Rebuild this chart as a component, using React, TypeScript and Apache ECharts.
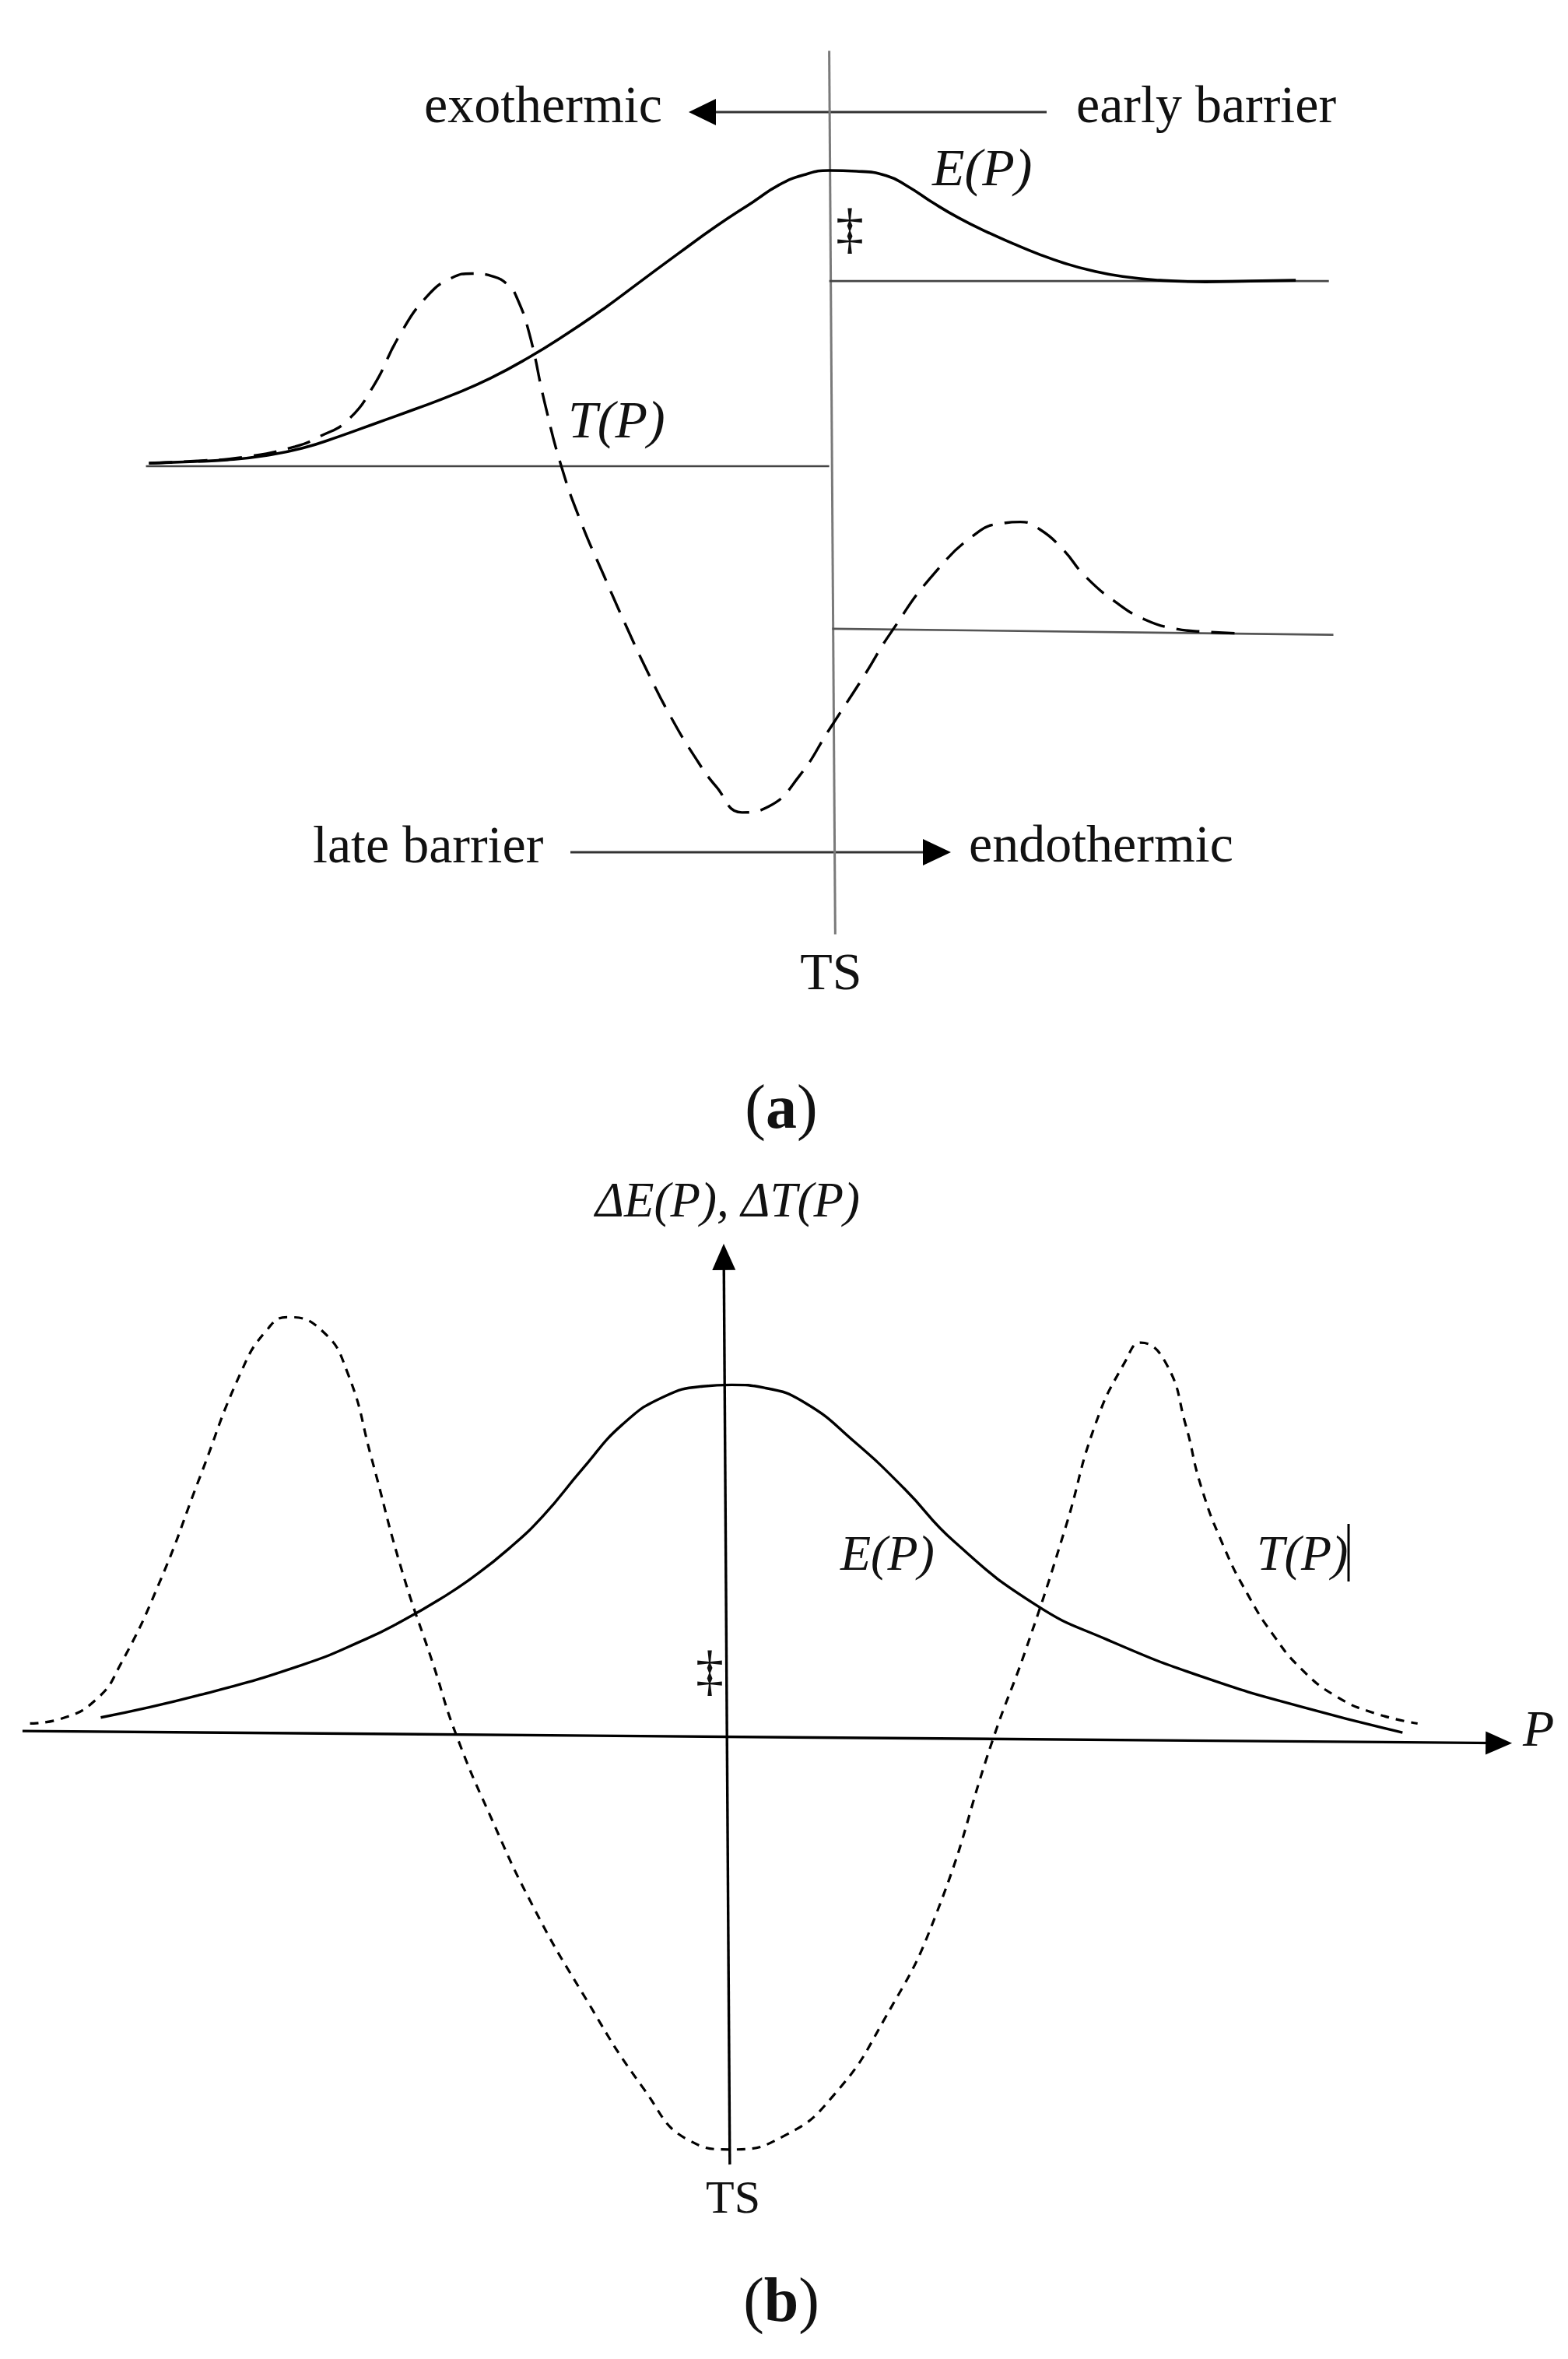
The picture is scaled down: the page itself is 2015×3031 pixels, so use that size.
import React, { useEffect, useRef } from "react";
import * as echarts from "echarts";

// ---------- Panel (a) data (P: reaction coordinate, TS at 0) ----------
const pA_E = [-45.2, -42.5, -40, -37.5, -35, -32.5, -30, -27.5, -25, -22.5, -20, -17.5, -15, -12.5, -10, -7.5, -5, -3.4, -1.7, 0, 1.8, 3.8, 5.2, 6.9, 8.6, 10.4, 12.2, 13.9, 15.6, 17.4, 19.5, 22, 25, 28, 31];
const eA = [0.2, 0.3, 0.42, 0.7, 1.2, 2.0, 2.9, 3.8, 4.75, 5.85, 7.2, 8.75, 10.45, 12.3, 14.15, 15.95, 17.6, 18.65, 19.35, 19.65, 19.6, 19.3, 18.6, 17.5, 16.5, 15.6, 14.8, 14.1, 13.5, 13.0, 12.6, 12.35, 12.25, 12.3, 12.35];

const pA_T = [-45.2, -42, -38.9, -35.5, -33.8, -32.0, -30.3, -28.6, -26.8, -25.1, -23.7, -22.3, -21.3, -20.8, -19.95, -18.9, -17.8, -16.5, -15, -13.5, -12, -10.5, -9, -7.5, -5.8, -4, -2, 0, 2.4, 4, 7, 10, 11.5, 12.7, 14, 15.5, 17, 19, 21, 23, 25, 27];
const tA = [0.2, 0.35, 0.6, 1.3, 2.0, 3.05, 5.3, 8.6, 11.2, 12.5, 12.8, 12.6, 12.0, 11.3, 8.9, 4.2, 0, -3.7, -7.2, -10.6, -13.8, -16.7, -19.2, -21.3, -23.0, -22.6, -20.6, -17.5, -13.8, -11.2, -7.1, -4.3, -3.8, -3.7, -4.2, -5.5, -7.3, -9.0, -10.2, -10.8, -11.0, -11.1];

const baseLineA = [[-45.4, 0], [0, 0]];
const upperLineA = [[0, 12.3], [33.2, 12.3]];
const lowerLineA = [[0.2, -10.8], [33.5, -11.2]];
const tsLineA = [[0, 27.6], [0.4, -31.1]];

// ---------- Panel (b) data ----------
const pB_E = [-41.6, -35.0, -28.2, -24, -21.6, -19, -16.9, -14.5, -12.2, -9.6, -6.9, -4.2, -1.6, 0.3, 2.5, 5.2, 8.5, 11.8, 15.1, 20.5, 25.2, 31.9, 38.6, 44.9];
const eB = [1.1, 2.6, 4.6, 6.3, 7.5, 9.0, 10.4, 12.3, 14.5, 17.6, 20.6, 22.4, 23.1, 23.2, 23.0, 22.0, 19.4, 16.3, 12.8, 8.6, 6.3, 3.7, 1.7, 0.1];

const pB_T = [-46.3, -44.3, -41.9, -40.3, -37.6, -35.0, -32.3, -30.6, -29.2, -26.9, -25.2, -23.6, -21.6, -19.5, -18.0, -15.6, -12.9, -9.6, -5.5, -2.5, 0.3, 3.8, 7.1, 10.5, 13.9, 17.7, 19.9, 22.5, 24.5, 26.5, 27.5, 29.2, 30.5, 31.5, 33.0, 34.6, 36.3, 38.2, 40.5, 43, 45.9];
const tB = [0.7, 1.0, 2.3, 4.6, 10.3, 17.1, 24.0, 26.8, 27.7, 26.8, 24.0, 18.3, 10.9, 4.6, 0, -5.7, -11.4, -17.2, -23.6, -27.0, -27.6, -26.7, -24.0, -18.9, -12.0, -0.3, 5.7, 13.7, 20.6, 24.8, 26.0, 24.6, 20.5, 16.5, 12.5, 9.3, 6.6, 4.3, 2.5, 1.4, 0.7];

const axisPB = [[-46.8, 0.2], [51.3, -0.6]];
const axisEB = [[0.2, -28.6], [-0.2, 31.7]];

// ---------- Texts ----------
const TXT_EXO = "exothermic";
const TXT_EARLY = "early barrier";
const TXT_LATE = "late barrier";
const TXT_ENDO = "endothermic";
const TXT_EP = "E(P)";
const TXT_TP = "T(P)";
const TXT_TS = "TS";
const TXT_DDAG = "\u2021";
const TXT_YB = "\u0394E(P), \u0394T(P)";
const TXT_P = "P";

const FONT = '"Liberation Serif", "Times New Roman", serif';

const zip = (xs: number[], ys: number[]) => xs.map((x, i) => [x, ys[i]]);

function text(x: number, y: number, t: string, size: number, opts: any = {}) {
  const align = opts.align || "left";
  return {
    type: "text",
    x,
    y,
    silent: true,
    style: {
      text: t,
      fontSize: size,
      fontFamily: FONT,
      fontStyle: opts.italic ? "italic" : "normal",
      fontWeight: "normal",
      fill: "#111",
      align,
      textAlign: align,
      verticalAlign: "middle",
      textVerticalAlign: "middle",
      rich: opts.rich,
    },
  };
}

export default function App() {
  const ref = useRef<HTMLDivElement>(null);
  useEffect(() => {
    if (!ref.current) return;
    const chart = echarts.init(ref.current, null, { renderer: "svg" });

    const lineBase = (data: number[][], gi: number, color: string, width: number, dash?: number[] | "solid", smooth: number | boolean = 0.5): any => ({
      type: "line",
      xAxisIndex: gi,
      yAxisIndex: gi,
      data,
      symbol: "none",
      smooth,
      silent: true,
      lineStyle: { color, width, type: dash || "solid", cap: "butt" },
    });

    const option: any = {
      animation: false,
      backgroundColor: "#ffffff",
      grid: [
        { left: 98.6, top: 57.5, width: 1740.6, height: 1160.4 },
        { left: 5.7, top: 1589.8, width: 1953.3, height: 1218.4 },
      ],
      xAxis: [
        { gridIndex: 0, type: "value", min: -50, max: 40, show: false },
        { gridIndex: 1, type: "value", min: -48, max: 53, show: false },
      ],
      yAxis: [
        { gridIndex: 0, type: "value", min: -32, max: 28, show: false },
        { gridIndex: 1, type: "value", min: -30, max: 33, show: false },
      ],
      series: [
        lineBase(tsLineA, 0, "#7a7a7a", 3, "solid", false),
        lineBase(baseLineA, 0, "#444", 2.6, "solid", false),
        lineBase(upperLineA, 0, "#444", 2.6, "solid", false),
        lineBase(lowerLineA, 0, "#555", 2.6, "solid", false),
        lineBase(zip(pA_E, eA), 0, "#000", 3.6),
        lineBase(zip(pA_T, tA), 0, "#000", 3.4, [30, 15]),
        {
          ...lineBase(zip(pB_E, eB), 1, "#000", 3.4),
          markLine: {
            silent: true,
            symbol: ["none", "triangle"],
            symbolSize: [30, 34],
            label: { show: false },
            lineStyle: { color: "#000", width: 3.4, type: "solid" },
            data: [
              [{ coord: axisPB[0] }, { coord: axisPB[1] }],
              [{ coord: axisEB[0] }, { coord: axisEB[1] }],
            ],
          },
        },
        lineBase(zip(pB_T, tB), 1, "#000", 3.2, [11, 9]),
      ],
      graphic: [
        // Panel (a) annotations
        text(545, 134, TXT_EXO, 68),
        text(1383, 134, TXT_EARLY, 68),
        { type: "line", silent: true, shape: { x1: 1345, y1: 144, x2: 910, y2: 144 }, style: { stroke: "#333", lineWidth: 3 } },
        { type: "polygon", silent: true, shape: { points: [[885, 144], [920, 127], [920, 161]] }, style: { fill: "#000" } },
        text(1198, 215, TXT_EP, 68, { italic: true }),
        text(1092, 294, TXT_DDAG, 72, { align: "center" }),
        text(730, 539, TXT_TP, 68, { italic: true }),
        text(402, 1085, TXT_LATE, 68),
        text(1245, 1084, TXT_ENDO, 68),
        { type: "line", silent: true, shape: { x1: 733, y1: 1095, x2: 1195, y2: 1095 }, style: { stroke: "#333", lineWidth: 3 } },
        { type: "polygon", silent: true, shape: { points: [[1222, 1095], [1186, 1078], [1186, 1112]] }, style: { fill: "#000" } },
        text(1068, 1248, TXT_TS, 68, { align: "center" }),
        {
          type: "text",
          x: 1004,
          y: 1422,
          silent: true,
          style: {
            text: "({b|a})",
            fontSize: 80,
            fontFamily: FONT,
            fill: "#111",
            align: "center",
            textAlign: "center",
            verticalAlign: "middle",
            textVerticalAlign: "middle",
            rich: { b: { fontWeight: "bold", fontSize: 80, fontFamily: FONT } },
          },
        },
        // Panel (b) annotations
        text(765, 1542, TXT_YB, 63, { italic: true }),
        text(1080, 1995, TXT_EP, 64, { italic: true }),
        text(1615, 1995, TXT_TP, 64, { italic: true }),
        { type: "line", silent: true, shape: { x1: 1733, y1: 1958, x2: 1733, y2: 2032 }, style: { stroke: "#000", lineWidth: 3 } },
        text(912, 2147, TXT_DDAG, 72, { align: "center" }),
        text(1957, 2220, TXT_P, 66, { italic: true }),
        text(942, 2823, TXT_TS, 60, { align: "center" }),
        {
          type: "text",
          x: 1004,
          y: 2955,
          silent: true,
          style: {
            text: "({b|b})",
            fontSize: 80,
            fontFamily: FONT,
            fill: "#111",
            align: "center",
            textAlign: "center",
            verticalAlign: "middle",
            textVerticalAlign: "middle",
            rich: { b: { fontWeight: "bold", fontSize: 80, fontFamily: FONT } },
          },
        },
      ],
    };

    chart.setOption(option);
    return () => chart.dispose();
  }, []);

  return (
    <div
      ref={ref}
      style={{ position: "fixed", left: 0, top: 0, width: 2015, height: 3031, background: "#fff" }}
    />
  );
}
